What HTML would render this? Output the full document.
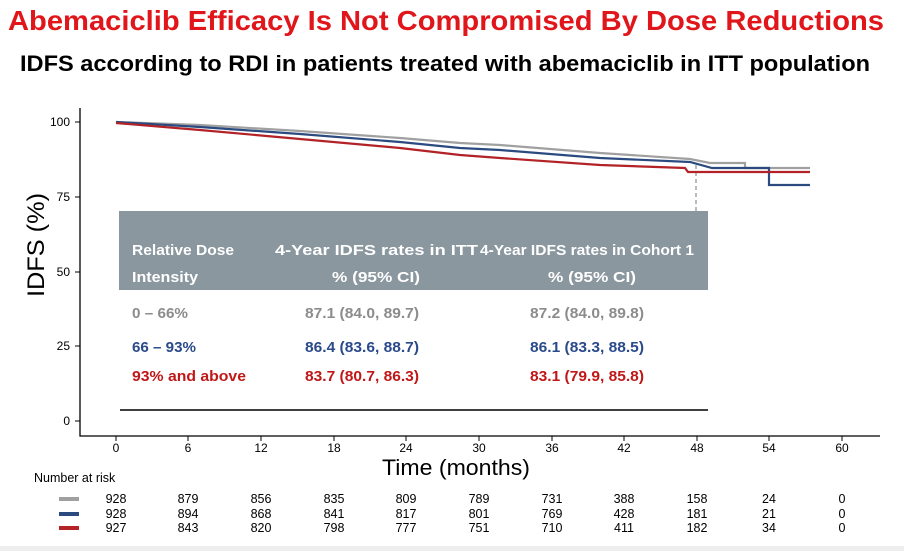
<!DOCTYPE html>
<html><head><meta charset="utf-8"><style>
body{margin:0;width:904px;height:551px;background:#fff;overflow:hidden;font-family:"Liberation Sans",Arial,sans-serif;}
</style></head><body>
<svg width="904" height="551" viewBox="0 0 904 551" xmlns="http://www.w3.org/2000/svg" font-family="Liberation Sans, Arial, sans-serif">
<text x="8" y="30" font-size="28" font-weight="bold" fill="#e0161b" textLength="876" lengthAdjust="spacingAndGlyphs">Abemaciclib Efficacy Is Not Compromised By Dose Reductions</text>
<text x="20" y="71" font-size="22.5" font-weight="bold" fill="#000" textLength="850" lengthAdjust="spacingAndGlyphs">IDFS according to RDI in patients treated with abemaciclib in ITT population</text>
<!-- axes -->
<path d="M80 108 V436 H880" fill="none" stroke="#000" stroke-width="1.3"/>
<g stroke="#000" stroke-width="1">
<path d="M75 122H80M75 197H80M75 272H80M75 346H80M75 421H80"/>
<path d="M116 436v5M188 436v5M261 436v5M334 436v5M406 436v5M479 436v5M552 436v5M624 436v5M697 436v5M769 436v5M842 436v5"/>
</g>
<g font-size="12" fill="#000" text-anchor="end">
<text x="70" y="126">100</text><text x="70" y="201">75</text><text x="70" y="276">50</text><text x="70" y="350">25</text><text x="70" y="425">0</text>
</g>
<g font-size="12" fill="#000" text-anchor="middle">
<text x="116" y="452">0</text><text x="188" y="452">6</text><text x="261" y="452">12</text><text x="334" y="452">18</text><text x="406" y="452">24</text><text x="479" y="452">30</text><text x="552" y="452">36</text><text x="624" y="452">42</text><text x="697" y="452">48</text><text x="769" y="452">54</text><text x="842" y="452">60</text>
</g>
<text x="456" y="475" font-size="22" text-anchor="middle" textLength="148" lengthAdjust="spacingAndGlyphs">Time (months)</text>
<text transform="translate(44 245) rotate(-90)" font-size="24" text-anchor="middle" textLength="104" lengthAdjust="spacingAndGlyphs">IDFS (%)</text>
<!-- curves -->
<path d="M696 165V410" stroke="#777" stroke-dasharray="4,3" fill="none"/>
<polyline fill="none" stroke="#a0a0a0" stroke-width="2.2" points="116,122 200,125 300,131 400,138 460,143 500,145 600,153 690,159 710,163 745,163 745,168 810,168"/>
<polyline fill="none" stroke="#2a4a80" stroke-width="2.2" points="116,122 200,127 300,134 400,142 460,148 500,150 600,158 690,162 712,168 769,168 769,185 810,185"/>
<polyline fill="none" stroke="#b22226" stroke-width="2.2" points="116,123 200,130 300,139 400,148 460,155 500,158 600,165 685,168 688,172 810,172"/>
<!-- table -->
<rect x="119" y="211" width="589" height="79" fill="#8a979f"/>
<rect x="119" y="290" width="589" height="119" fill="#fff"/>
<line x1="120" y1="410" x2="708" y2="410" stroke="#000" stroke-width="1.5"/>
<g font-size="15" font-weight="bold" lengthAdjust="spacingAndGlyphs">
<text x="132" y="255" fill="#fff" textLength="102" lengthAdjust="spacingAndGlyphs">Relative Dose</text>
<text x="132" y="282" fill="#fff" textLength="66" lengthAdjust="spacingAndGlyphs">Intensity</text>
<text x="275" y="255" fill="#fff" textLength="203" lengthAdjust="spacingAndGlyphs">4-Year IDFS rates in ITT</text>
<text x="332" y="282" fill="#fff" textLength="88" lengthAdjust="spacingAndGlyphs">% (95% CI)</text>
<text x="480" y="255" fill="#fff" textLength="214" lengthAdjust="spacingAndGlyphs">4-Year IDFS rates in Cohort 1</text>
<text x="548" y="282" fill="#fff" textLength="88" lengthAdjust="spacingAndGlyphs">% (95% CI)</text>
<text x="132" y="318" fill="#8c8c8c" textLength="56" lengthAdjust="spacingAndGlyphs">0 – 66%</text>
<text x="305" y="318" fill="#8c8c8c" textLength="114" lengthAdjust="spacingAndGlyphs">87.1 (84.0, 89.7)</text>
<text x="530" y="318" fill="#8c8c8c" textLength="114" lengthAdjust="spacingAndGlyphs">87.2 (84.0, 89.8)</text>
<text x="132" y="352" fill="#2a4a8a" textLength="64" lengthAdjust="spacingAndGlyphs">66 – 93%</text>
<text x="305" y="352" fill="#2a4a8a" textLength="114" lengthAdjust="spacingAndGlyphs">86.4 (83.6, 88.7)</text>
<text x="530" y="352" fill="#2a4a8a" textLength="114" lengthAdjust="spacingAndGlyphs">86.1 (83.3, 88.5)</text>
<text x="132" y="381" fill="#c01818" textLength="114" lengthAdjust="spacingAndGlyphs">93% and above</text>
<text x="305" y="381" fill="#c01818" textLength="114" lengthAdjust="spacingAndGlyphs">83.7 (80.7, 86.3)</text>
<text x="530" y="381" fill="#c01818" textLength="114" lengthAdjust="spacingAndGlyphs">83.1 (79.9, 85.8)</text>
</g>
<!-- risk table -->
<text x="34" y="482" font-size="12.5">Number at risk</text>
<rect x="59" y="497" width="20" height="4" fill="#a0a0a0"/>
<rect x="59" y="512" width="20" height="4" fill="#2a4a80"/>
<rect x="59" y="526" width="20" height="4" fill="#b22226"/>
<g font-size="12.5" text-anchor="middle">
<text y="503"><tspan x="116">928</tspan><tspan x="188">879</tspan><tspan x="261">856</tspan><tspan x="334">835</tspan><tspan x="406">809</tspan><tspan x="479">789</tspan><tspan x="552">731</tspan><tspan x="624">388</tspan><tspan x="697">158</tspan><tspan x="769">24</tspan><tspan x="842">0</tspan></text>
<text y="518"><tspan x="116">928</tspan><tspan x="188">894</tspan><tspan x="261">868</tspan><tspan x="334">841</tspan><tspan x="406">817</tspan><tspan x="479">801</tspan><tspan x="552">769</tspan><tspan x="624">428</tspan><tspan x="697">181</tspan><tspan x="769">21</tspan><tspan x="842">0</tspan></text>
<text y="532"><tspan x="116">927</tspan><tspan x="188">843</tspan><tspan x="261">820</tspan><tspan x="334">798</tspan><tspan x="406">777</tspan><tspan x="479">751</tspan><tspan x="552">710</tspan><tspan x="624">411</tspan><tspan x="697">182</tspan><tspan x="769">34</tspan><tspan x="842">0</tspan></text>
</g>
<rect x="0" y="546" width="904" height="5" fill="#eeeeee"/>
</svg>
</body></html>
